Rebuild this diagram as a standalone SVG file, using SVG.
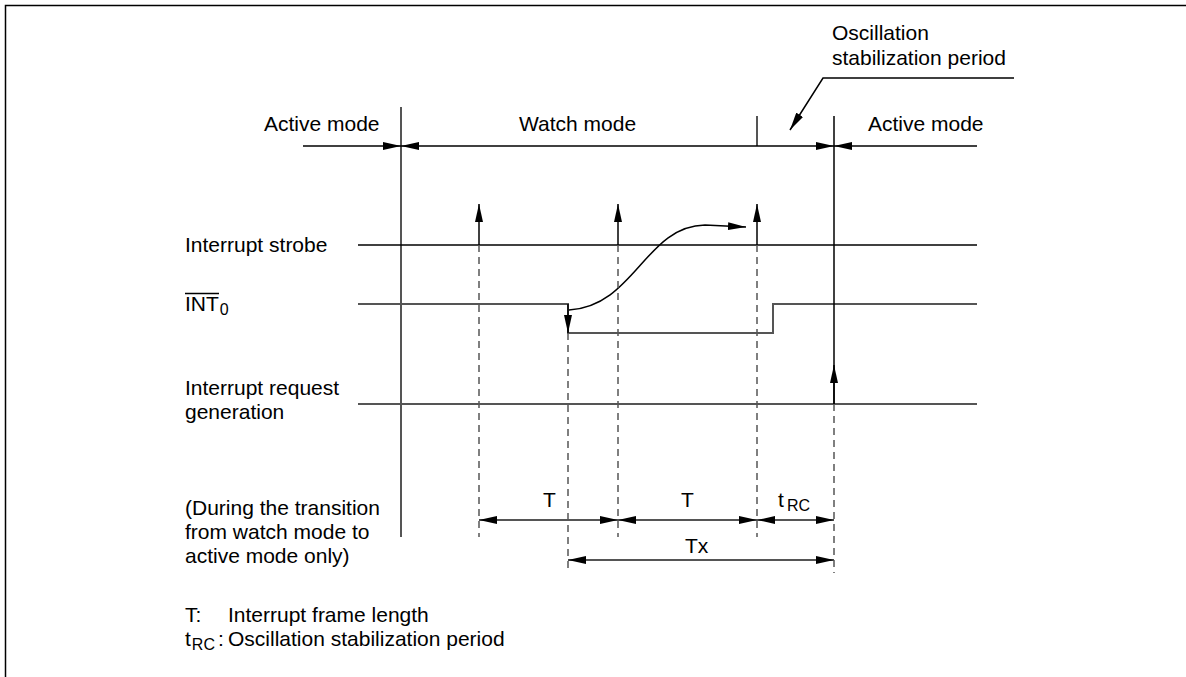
<svg xmlns="http://www.w3.org/2000/svg" width="1186" height="677" viewBox="0 0 1186 677">
<style>
text{font-family:"Liberation Sans",Arial,sans-serif;font-size:21px;fill:#000}
.sub{font-size:16px}
.ln{stroke:#000;stroke-width:1.5;fill:none}
.gr{stroke:#555;stroke-width:2;fill:none}
.ds{stroke:#555;stroke-width:1.5;stroke-dasharray:7,5;fill:none}
</style>
<defs>
<marker id="ah" viewBox="0 0 18 8" refX="18" refY="4" markerWidth="18" markerHeight="8" markerUnits="userSpaceOnUse" orient="auto">
<path d="M0,0 L18,4 L0,8 z" fill="#000"/>
</marker>
<marker id="ahs" viewBox="0 0 18 8" refX="0" refY="4" markerWidth="18" markerHeight="8" markerUnits="userSpaceOnUse" orient="auto">
<path d="M18,0 L0,4 L18,8 z" fill="#000"/>
</marker>
</defs>
<rect x="0" y="0" width="1186" height="677" fill="#fff"/>
<g id="frame">
<path class="ln" d="M5.5,677 V5.5 H1186"/>
</g>
<g id="mode-labels">
<text x="264" y="131">Active mode</text>
<text x="519" y="131">Watch mode</text>
<text x="868" y="131">Active mode</text>
<text x="832" y="40">Oscillation</text>
<text x="832" y="65">stabilization period</text>
</g>
<g id="signal-labels">
<text x="185" y="252">Interrupt strobe</text>
<text x="185" y="311">INT<tspan class="sub" dx="1" dy="4">0</tspan></text>
<line x1="185" y1="293.5" x2="219" y2="293.5" stroke="#000" stroke-width="1.5"/>
<text x="185" y="395">Interrupt request</text>
<text x="185" y="419">generation</text>
<text x="185" y="515">(During the transition</text>
<text x="185" y="539">from watch mode to</text>
<text x="185" y="563">active mode only)</text>
</g>
<g id="dimension-labels">
<text x="543" y="507">T</text>
<text x="681" y="507">T</text>
<text x="778" y="507">t<tspan class="sub" x="787" y="511">RC</tspan></text>
<text x="685" y="553">Tx</text>
</g>
<g id="legend">
<text x="185" y="622">T:</text>
<text x="228" y="622">Interrupt frame length</text>
<text x="185" y="646">t<tspan class="sub" dx="1" dy="4">RC</tspan><tspan dx="3" dy="-4">:</tspan></text>
<text x="228" y="646">Oscillation stabilization period</text>
</g>
<g id="signals">
<line class="gr" x1="401" y1="107" x2="401" y2="537"/>
<line class="ln" x1="358" y1="245" x2="977" y2="245"/>
<path class="gr" d="M358,304 H568 V333 H773 V304 H977"/>
<line class="gr" x1="358" y1="404" x2="977" y2="404"/>
<line class="ln" x1="834" y1="116" x2="834" y2="404"/>
<line class="gr" x1="757" y1="116" x2="757" y2="146"/>
</g>
<g id="connectors">
<line class="ln" x1="303" y1="146" x2="401" y2="146" marker-end="url(#ah)"/>
<line class="ln" x1="401" y1="146" x2="834" y2="146" marker-start="url(#ahs)" marker-end="url(#ah)"/>
<line class="ln" x1="977" y1="146" x2="834" y2="146" marker-end="url(#ah)"/>
<path class="ln" d="M1014,78 H823 L790,130" marker-end="url(#ah)"/>
<line class="ln" x1="479" y1="245" x2="479" y2="204" marker-end="url(#ah)"/>
<line class="ln" x1="618" y1="245" x2="618" y2="204" marker-end="url(#ah)"/>
<line class="ln" x1="757" y1="245" x2="757" y2="204" marker-end="url(#ah)"/>
<line class="ln" x1="568" y1="304" x2="568" y2="333" marker-end="url(#ah)"/>
<line class="ln" x1="834" y1="404" x2="834" y2="365" marker-end="url(#ah)"/>
<path class="ln" d="M569,310 C635,306 645,226 705,225 L746,227" marker-end="url(#ah)"/>
<line class="ds" x1="479" y1="245" x2="479" y2="537"/>
<line class="ds" x1="618" y1="245" x2="618" y2="537"/>
<line class="ds" x1="757" y1="245" x2="757" y2="537"/>
<line class="ds" x1="568" y1="333" x2="568" y2="573"/>
<line class="ds" x1="834" y1="404" x2="834" y2="573"/>
<line class="gr" x1="479" y1="520" x2="618" y2="520" marker-start="url(#ahs)" marker-end="url(#ah)"/>
<line class="gr" x1="618" y1="520" x2="757" y2="520" marker-start="url(#ahs)" marker-end="url(#ah)"/>
<line class="gr" x1="757" y1="520" x2="834" y2="520" marker-start="url(#ahs)" marker-end="url(#ah)"/>
<line class="gr" x1="568" y1="560" x2="834" y2="560" marker-start="url(#ahs)" marker-end="url(#ah)"/>
</g>
</svg>
